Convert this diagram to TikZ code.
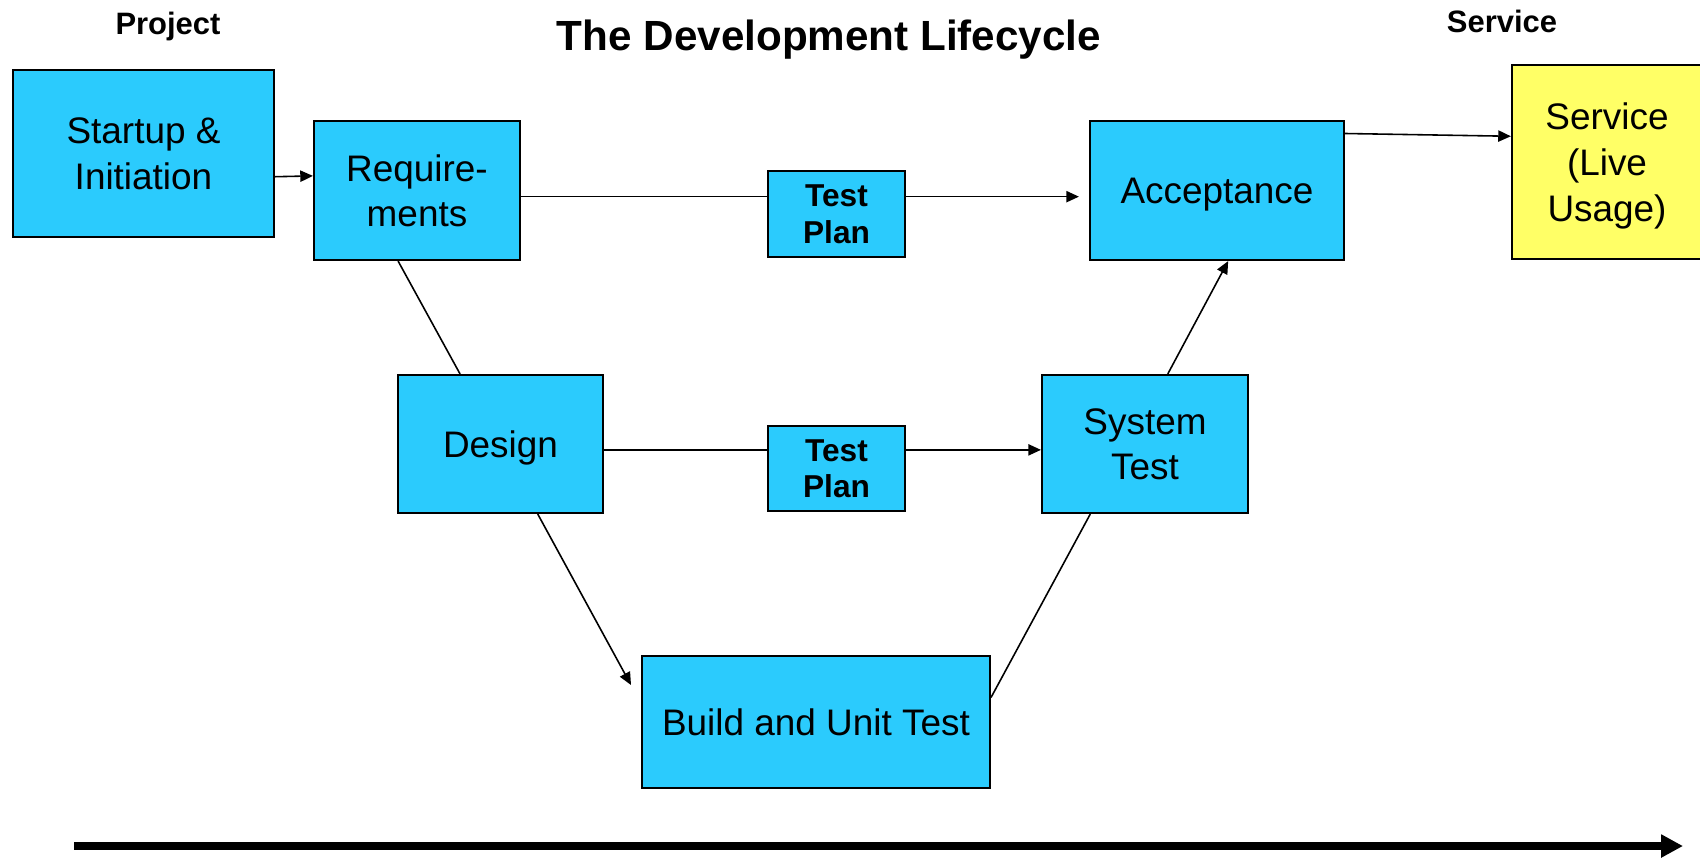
\documentclass[tikz,border=0pt]{standalone}
\usepackage{fontspec}
\setmainfont{Liberation Sans}
\usetikzlibrary{arrows.meta}
\definecolor{stageblue}{HTML}{2BCBFD}
\definecolor{liveyellow}{HTML}{FFFF66}

\begin{document}
\begin{tikzpicture}
[x=0.01cm,y=-0.01cm,
  boxdecorate/.style={shape=rectangle,draw,line width=0.6pt,fill=stageblue,
    align=center,inner sep=0pt,text depth=0pt,font={\fontsize{10.5}{13}\selectfont}},
  plandecorate/.style={boxdecorate,font={\bfseries\fontsize{9}{10.4}\selectfont}},
  labeldecorate/.style={font={\bfseries\fontsize{8.8}{10.8}\selectfont}},
  linedecorate/.style={-,line width=0.45pt},
  arrowdecorate/.style={-{Triangle[length=3.6pt,width=3.2pt]},line width=0.45pt}]
\useasboundingbox (0,0) rectangle (1700,859);
%% headings
\node[labeldecorate] (project) at (168,26) {Project};
\node[labeldecorate] (servicehead) at (1502,21) {Service};
\node[font={\bfseries\fontsize{12}{14}\selectfont}] (title) at (829,40) {The Development Lifecycle};
%% stages
\foreach \nodename/\x/\y/\w/\h/\txt in {start/143.5/153.5/261/167/{Startup \&\\Initiation},
  req/417/190.5/206/139/{Require-\\ments}, acc/1217/190.5/254/139/{Acceptance},
  des/500.5/444/205/138/{Design}, sys/1145/444/206/138/{System\\Test},
  build/816/722/348/132/{Build and Unit Test}} {
  \node (\nodename) at (\x,\y) [boxdecorate,minimum width=\w*0.01cm,minimum height=\h*0.01cm] {\txt};
}
\node (serv) at (1607,162) [boxdecorate,fill=liveyellow,minimum width=1.9cm,minimum height=1.94cm]
  {Service\\(Live\\Usage)};
%% test plans
\foreach \nodename/\y in {tp1/214, tp2/468.5} {
  \node (\nodename) at (836.5,\y) [plandecorate,minimum width=1.37cm,minimum height=0.855cm] {Test\\Plan};
}
\coordinate (buildin) at (631,685);
\coordinate (timestart) at (74,846);
\coordinate (timeend) at (1683,846);
%% links through the test plans
\draw[linedecorate] (tp1.166 -| req.east) -- (tp1.166);
\draw[arrowdecorate,shorten >=0.1cm] (tp1.14) -- (tp1.14 -| acc.west);
\draw[linedecorate] (tp2.165 -| des.east) -- (tp2.165);
\draw[arrowdecorate] (tp2.15) -- (tp2.15 -| sys.west);
%% plain edges
\path
\foreach \startnode/\endnode in {req.255/des.120, build.8/sys.232} {
  (\startnode) edge[linedecorate] (\endnode)
};
%% arrows
\path
\foreach \startnode/\endnode in {start.350/req.172, des.298/buildin, sys.72/acc.279, acc.24/serv.165} {
  (\startnode) edge[arrowdecorate] (\endnode)
};
%% time line
\draw[line width=2.3pt,-{Triangle[length=6.2pt,width=6.2pt]}] (timestart) -- (timeend);
\end{tikzpicture}
\end{document}
